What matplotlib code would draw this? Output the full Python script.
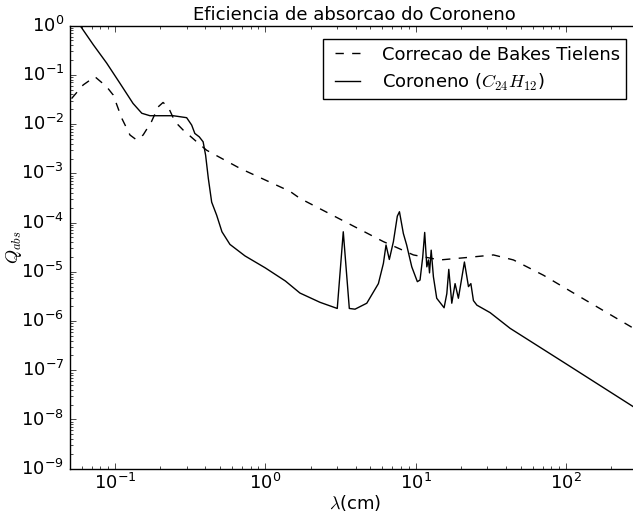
import matplotlib
matplotlib.use('Agg')
import matplotlib.pyplot as plt

# Coroneno (C24H12) absorption efficiency
lam_cor = [0.050, 0.060, 0.0718, 0.0881, 0.108, 0.132, 0.151, 0.171, 0.244, 0.300,
           0.324, 0.340, 0.364, 0.386, 0.401, 0.418, 0.440, 0.475, 0.515, 0.582,
           0.733, 1.00, 1.36, 1.70, 2.31, 3.01, 3.30, 3.62, 3.95, 4.73,
           5.65, 6.10, 6.35, 6.68, 7.11, 7.55, 7.80, 8.28, 8.71, 9.42,
           10.26, 10.69, 11.14, 11.48, 11.86, 12.16, 12.36, 12.68, 13.12, 13.80,
           15.45, 16.11, 16.60, 17.38, 18.28, 19.23, 21.09, 22.44, 23.28, 24.21,
           25.53, 31.26, 42.46, 100.0, 309.0]
q_cor = [2.0, 0.91, 0.41, 0.174, 0.0676, 0.0263, 0.0166, 0.0148, 0.0148, 0.0135,
         0.00955, 0.00646, 0.0055, 0.00437, 0.00234, 7.9e-4, 2.6e-4, 1.41e-4, 6.5e-5, 3.6e-5,
         2.1e-5, 1.2e-5, 6.5e-6, 3.7e-6, 2.4e-6, 1.8e-6, 6.5e-5, 1.8e-6, 1.74e-6, 2.3e-6,
         5.75e-6, 1.48e-5, 3.5e-5, 1.78e-5, 4.1e-5, 1.35e-4, 1.66e-4, 6.0e-5, 3.5e-5, 1.26e-5,
         6.3e-6, 6.8e-6, 2.0e-5, 6.3e-5, 1.26e-5, 1.74e-5, 9.5e-6, 2.75e-5, 7.9e-6, 2.9e-6,
         1.86e-6, 3.6e-6, 1.12e-5, 2.3e-6, 5.75e-6, 2.9e-6, 1.58e-5, 5.0e-6, 5.75e-6, 2.6e-6,
         2.1e-6, 1.48e-6, 7.1e-7, 1.35e-7, 1.5e-8]

# Bakes & Tielens correction
lam_bt = [0.0515, 0.0615, 0.0736, 0.0881, 0.0975, 0.111, 0.126, 0.139, 0.154, 0.175,
          0.194, 0.209, 0.226, 0.251, 0.284, 0.350, 0.407, 0.679, 1.46, 1.70,
          6.10, 9.66, 14.5, 21.9, 32.9, 44.7, 70.8, 126.0, 309.0]
q_bt = [0.033, 0.0624, 0.0918, 0.0575, 0.0389, 0.0132, 0.0060, 0.0048, 0.0060, 0.0112,
        0.0224, 0.0275, 0.0224, 0.0112, 0.0076, 0.00437, 0.00295, 0.00126, 4.3e-4, 3.1e-4,
        4.1e-5, 2.2e-5, 1.74e-5, 1.95e-5, 2.2e-5, 1.74e-5, 8.5e-6, 3.0e-6, 6.0e-7]

title = 'Eficiencia de absorcao do Coroneno'
label_bt = 'Correcao de Bakes Tielens'
label_cor = r'Coroneno ($C_{24}H_{12}$)'

plt.style.use('classic')
plt.rcParams['font.size'] = 13

fig = plt.figure(figsize=(6.33, 5.17), dpi=100, facecolor='white')
ax = fig.add_axes([0.110, 0.0934, 0.901, 0.857])
ax.loglog(lam_bt, q_bt, color='black', linestyle='--', linewidth=1.0, label=label_bt)
ax.loglog(lam_cor, q_cor, color='black', linestyle='-', linewidth=1.0, label=label_cor)
ax.set_xlim(0.05, 310)
ax.set_ylim(1e-9, 1)
ax.set_title(title, fontsize=13, pad=4)
ax.set_xlabel(r'$\lambda$(cm)', fontsize=13, labelpad=0)
ax.set_ylabel(r'$Q_{abs}$', fontsize=13, labelpad=-2)
ax.tick_params(which='both', labelsize=13)
ax.tick_params(axis='x', which='both', pad=3)
ax.legend(loc='upper right', fontsize=13, numpoints=2, handlelength=2.0,
          handletextpad=0.9, borderpad=0.35, borderaxespad=0.75, labelspacing=0.45)
fig.savefig('out.png', dpi=100, facecolor='white')
